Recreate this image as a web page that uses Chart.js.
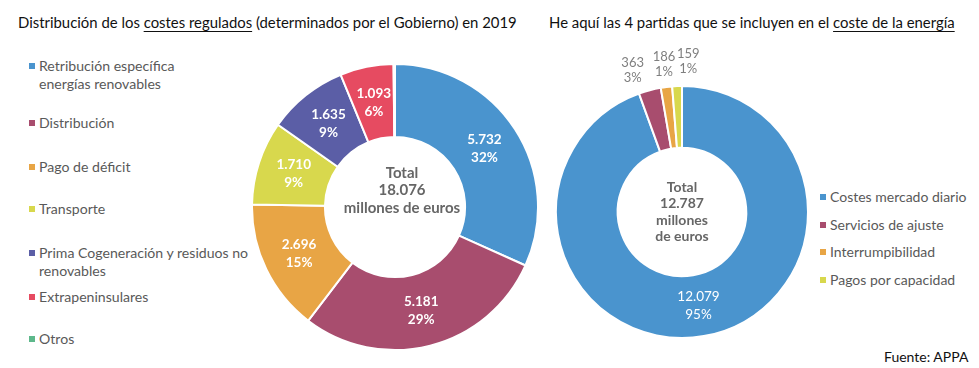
<!DOCTYPE html>
<html>
<head>
<meta charset="utf-8">
<script src="https://cdn.jsdelivr.net/npm/chart.js@4.4.0/dist/chart.umd.min.js"></script>
<style>
  body { margin: 0; background: #fff; font-family: Lato, "Open Sans", sans-serif; }
  #page { position: relative; width: 979px; height: 368px; overflow: hidden; }
  .title { position: absolute; top: 13px; font-size: 14.9px; color: #111; white-space: nowrap; }
  .title u { text-decoration-thickness: 1px; text-underline-offset: 3px; }
  .leg { position: absolute; font-size: 14px; color: #595959; line-height: 18px; white-space: nowrap; }
  .leg i { position: absolute; left: -10px; top: 6px; width: 6px; height: 6px; }
  #legendLeft .leg { font-size: 14.1px; }
  canvas { position: absolute; }
  #fuente { position: absolute; left: 884px; top: 348px; font-size: 14px; color: #111; }
</style>
</head>
<body>
<div id="page">
  <div class="title" style="left:18px">Distribución de los <u>costes regulados</u> (determinados por el Gobierno) en 2019</div>
  <div class="title" style="left:549px">He aquí las 4 partidas que se incluyen en el <u>coste de la energía</u></div>
  <div id="legendLeft"></div>
  <div id="legendRight"></div>
  <canvas id="left" width="288" height="288" style="left:251px;top:63px"></canvas>
  <canvas id="right" width="300" height="330" style="left:532px;top:47px"></canvas>
  <div id="fuente">Fuente: APPA</div>
</div>
<script>
// costes regulados 2019 (millones de euros)
const regCategories = ['Retribución específica energías renovables', 'Distribución', 'Pago de déficit', 'Transporte',
  'Prima Cogeneración y residuos no renovables', 'Extrapeninsulares', 'Otros'];
const regValues = [5732, 5181, 2696, 1710, 1635, 1093, 29];
const regPercents = ['32%', '29%', '15%', '9%', '9%', '6%', ''];
const regTotal = '18.076';

// coste de la energía
const energyCategories = ['Costes mercado diario', 'Servicios de ajuste', 'Interrumpibilidad', 'Pagos por capacidad'];
const energyValues = [12079, 363, 186, 159];
const energyPercents = ['95%', '3%', '1%', '1%'];
const energyTotal = '12.787';

const regColors = ['#4a94ce', '#a84d6e', '#e8a545', '#d8d84d', '#5b5ea6', '#e64b61', '#5db88b'];
const energyColors = ['#4a94ce', '#a84d6e', '#e8a545', '#d8d84d'];

// legend lines (with manual line breaks like the original)
const regLegendText = ['Retribución específica<br>energías renovables', 'Distribución', 'Pago de déficit', 'Transporte',
  'Prima Cogeneración y residuos no<br>renovables', 'Extrapeninsulares', 'Otros'];
const regLegendTop = [57, 114, 158, 200, 244, 288, 330];
const legL = document.getElementById('legendLeft');
regLegendText.forEach((t, i) => {
  legL.innerHTML += `<div class="leg" style="left:39px;top:${regLegendTop[i]}px"><i style="background:${regColors[i]}"></i>${t}</div>`;
});
const legR = document.getElementById('legendRight');
energyCategories.forEach((t, i) => {
  legR.innerHTML += `<div class="leg" style="left:830px;top:${188 + i * 27.7}px"><i style="background:${energyColors[i]}"></i>${t}</div>`;
});

const fmt = v => v.toLocaleString('de-DE');

// draws the value/percent labels and the total in the hole
const labelsPlugin = {
  id: 'sliceLabels',
  afterDatasetsDraw(chart, args, opts) {
    const ctx = chart.ctx;
    const meta = chart.getDatasetMeta(0);
    const values = chart.data.datasets[0].data;
    ctx.save();
    ctx.textAlign = 'center';
    ctx.textBaseline = 'middle';
    meta.data.forEach((arc, i) => {
      if (!opts.percents[i]) return;
      const share = values[i] / values.reduce((a, b) => a + b, 0);
      if (share > 0.05) {
        const p = arc.tooltipPosition();
        ctx.fillStyle = '#fff';
        ctx.font = opts.inside;
        ctx.fillText(fmt(values[i]), p.x, p.y - 9);
        ctx.fillText(opts.percents[i], p.x, p.y + 9);
      } else {
        // small slices: label outside, spread a bit sideways
        const mid = (arc.startAngle + arc.endAngle) / 2;
        const r = arc.outerRadius + 20;
        const x = arc.x + Math.cos(mid) * r + (i - 2) * 12;
        const y = arc.y + Math.sin(mid) * r - (i - 1) * 2;
        ctx.fillStyle = '#7f7f7f';
        ctx.font = '13px Lato, sans-serif';
        ctx.fillText(fmt(values[i]), x, y - 8);
        ctx.fillText(opts.percents[i], x, y + 7);
      }
    });
    // total in the middle
    const c = meta.data[0];
    ctx.fillStyle = '#666';
    ctx.font = opts.centerFont;
    opts.center.forEach((line, k) => {
      ctx.fillText(line, c.x + opts.centerDx, c.y + opts.centerDy + k * opts.centerStep);
    });
    ctx.restore();
  }
};

function donut(id, labels, values, colors, percents, extra) {
  return new Chart(document.getElementById(id), {
    type: 'doughnut',
    data: {
      labels: labels,
      datasets: [{
        data: values,
        backgroundColor: colors,
        borderColor: '#fff',
        borderWidth: 2
      }]
    },
    options: {
      responsive: false,
      animation: false,
      cutout: extra.cutout,
      radius: extra.radius,
      layout: { padding: 0 },
      plugins: {
        legend: { display: false },
        tooltip: { enabled: false },
        sliceLabels: Object.assign({ percents: percents, inside: extra.inside }, extra.center)
      }
    },
    plugins: [labelsPlugin]
  });
}

donut('left', regCategories, regValues, regColors, regPercents, {
  cutout: '49%', radius: 143, inside: 'bold 13.5px Lato, sans-serif',
  center: { center: ['Total', regTotal, 'millones de euros'], centerFont: 'bold 15px Lato, sans-serif',
    centerDx: 7, centerDy: -34, centerStep: 17.5 }
});
donut('right', energyCategories, energyValues, energyColors, energyPercents, {
  cutout: '51%', radius: 126, inside: '13.5px Lato, sans-serif',
  center: { center: ['Total', energyTotal, 'millones', 'de euros'], centerFont: 'bold 14px Lato, sans-serif',
    centerDx: 0, centerDy: -25, centerStep: 16.5 }
});
</script>
</body>
</html>
